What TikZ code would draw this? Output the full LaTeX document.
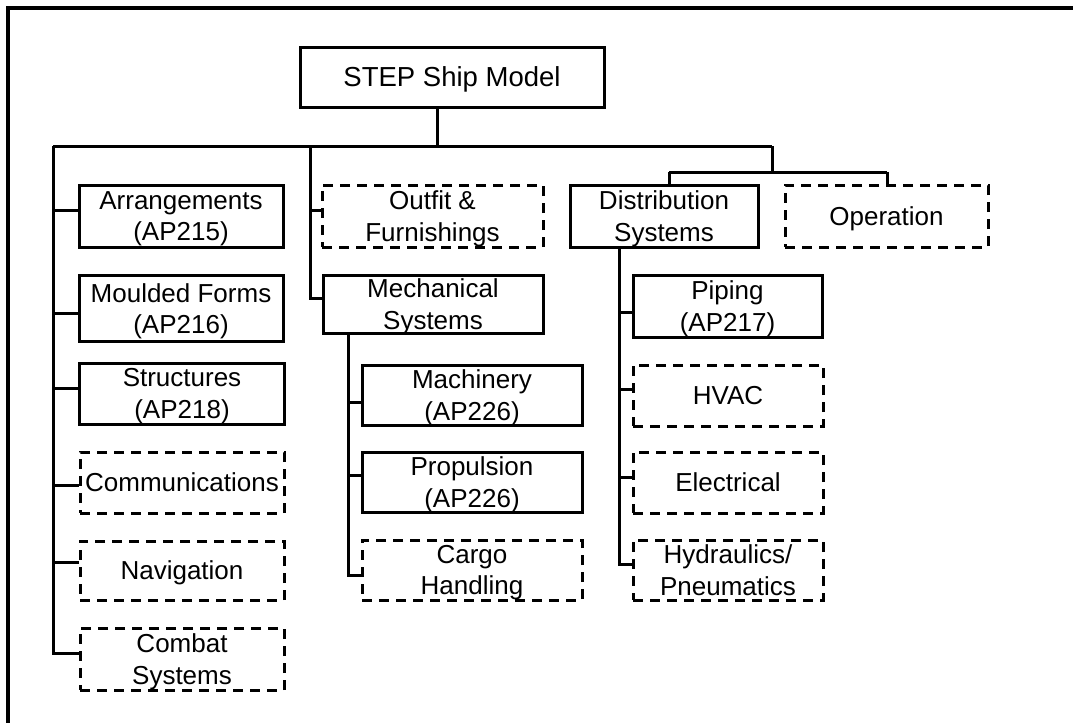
\documentclass[tikz,border=0pt]{standalone}
\usepackage{fontspec}
\setmainfont{Liberation Sans}
\begin{document}
\begin{tikzpicture}[x=1pt,y=-1pt,
  box/.style={draw, rectangle, line width=3pt, align=center, inner sep=0pt,
    text depth=-1pt, font=\fontsize{26}{31.5}\selectfont},
  plainbox/.style={box},
  dashbox/.style={box, dash pattern=on 10pt off 7pt},
  link/.style={line width=3pt},
  frameline/.style={line width=3.4pt}]
\useasboundingbox (0,0) rectangle (1073,723);

% outer frame (only top and left edges fall inside the page)
\draw[frameline] (1073,8) -- (8,8) -- (8,723);

% root
\node[plainbox, minimum width=304pt, minimum height=60pt, text depth=0pt,
      font=\fontsize{27.5}{33}\selectfont] (root) at (452,77) {STEP Ship Model};

% left column
\node[plainbox, minimum width=204pt, minimum height=62pt] (arr)    at (181,216)   {Arrangements\\(AP215)};
\node[plainbox, minimum width=204pt, minimum height=66pt] (mould)  at (181,308.5) {Moulded Forms\\(AP216)};
\node[plainbox, minimum width=205pt, minimum height=61pt] (struct) at (182,393.5) {Structures\\(AP218)};
\node[dashbox,  minimum width=204pt, minimum height=61pt, text depth=0pt] (comm) at (182,482.5) {Communications};
\node[dashbox,  minimum width=204pt, minimum height=59pt, text depth=0pt] (nav)  at (182,570.5) {Navigation};
\node[dashbox,  minimum width=204pt, minimum height=62pt] (combat) at (182,659)   {Combat\\Systems};

% middle column
\node[dashbox,  minimum width=221pt, minimum height=62pt] (outfit) at (432.5,216) {Outfit \&\\Furnishings};
\node[plainbox, minimum width=220pt, minimum height=58pt] (mech)   at (433,304)   {Mechanical\\Systems};
\node[plainbox, minimum width=220pt, minimum height=60pt] (mach)   at (472,395)   {Machinery\\(AP226)};
\node[plainbox, minimum width=220pt, minimum height=60pt] (prop)   at (472,482)   {Propulsion\\(AP226)};
\node[dashbox,  minimum width=220pt, minimum height=60pt] (cargo)  at (472,570)   {Cargo\\Handling};

% right column
\node[plainbox, minimum width=188pt, minimum height=62pt] (dist)   at (664,216)   {Distribution\\Systems};
\node[dashbox,  minimum width=203pt, minimum height=62pt, text depth=0pt] (oper) at (886.5,216) {Operation};
\node[plainbox, minimum width=189pt, minimum height=62pt] (piping) at (727.5,306) {Piping\\(AP217)};
\node[dashbox,  minimum width=190pt, minimum height=61pt, text depth=0pt] (hvac) at (728,395.5) {HVAC};
\node[dashbox,  minimum width=190pt, minimum height=61pt, text depth=0pt] (elec) at (728,482.5) {Electrical};
\node[dashbox,  minimum width=190pt, minimum height=60pt] (hydr)   at (728,570)   {Hydraulics/\\Pneumatics};

% junction points
\coordinate (drop) at (437,146);
\coordinate (busL) at (53,146);
\coordinate (busM) at (310,146);
\coordinate (busR) at (772,146);
\coordinate (subbus) at (772,172);
\coordinate (subL) at (669,172);
\coordinate (subR) at (887,172);

% main bus
\draw[link] (root.south -| drop) -- (drop);
\draw[link] (busL) -- (busR);

% left column branches
\coordinate (l1) at (53,210);
\coordinate (l2) at (53,313);
\coordinate (l3) at (53,388);
\coordinate (l4) at (53,485);
\coordinate (l5) at (53,562);
\coordinate (l6) at (53,653);
\draw[link] (busL) -- (l6) -- (combat.west |- l6);
\draw[link] (l1) -- (arr.west |- l1);
\draw[link] (l2) -- (mould.west |- l2);
\draw[link] (l3) -- (struct.west |- l3);
\draw[link] (l4) -- (comm.west |- l4);
\draw[link] (l5) -- (nav.west |- l5);

% middle column branches
\coordinate (m1) at (310,210);
\coordinate (m2) at (310,298);
\draw[link] (busM) -- (m2) -- (mech.west |- m2);
\draw[link] (m1) -- (outfit.west |- m1);

\coordinate (k0) at (348,333);
\coordinate (k1) at (348,402);
\coordinate (k2) at (348,475);
\coordinate (k3) at (348,575);
\draw[link] (mech.south -| k0) -- (k3) -- (cargo.west |- k3);
\draw[link] (k1) -- (mach.west |- k1);
\draw[link] (k2) -- (prop.west |- k2);

% right group
\draw[link] (busR) -- (subbus);
\draw[link] (subL) -- (subR);
\draw[link] (subL) -- (dist.north -| subL);
\draw[link] (subR) -- (oper.north -| subR);

\coordinate (r0) at (619,247);
\coordinate (r1) at (619,312);
\coordinate (r2) at (619,389);
\coordinate (r3) at (619,477);
\coordinate (r4) at (619,564);
\draw[link] (dist.south -| r0) -- (r4) -- (hydr.west |- r4);
\draw[link] (r1) -- (piping.west |- r1);
\draw[link] (r2) -- (hvac.west |- r2);
\draw[link] (r3) -- (elec.west |- r3);
\end{tikzpicture}
\end{document}
